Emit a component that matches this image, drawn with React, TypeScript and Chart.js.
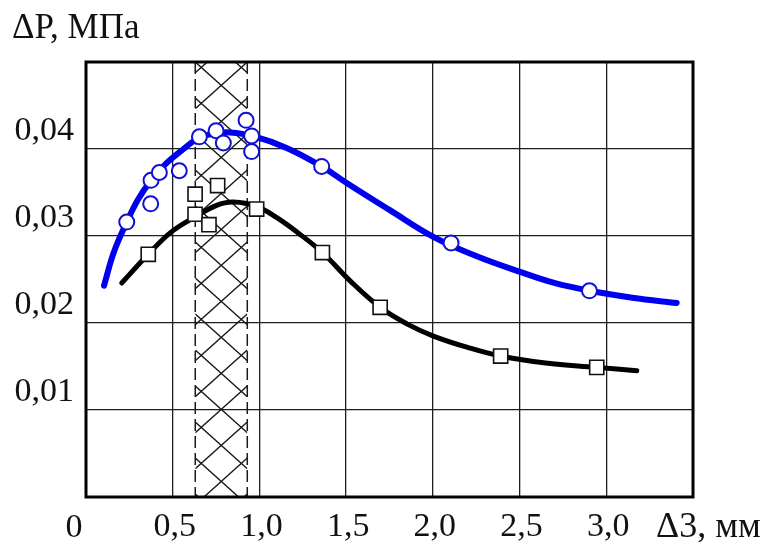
import React, { useEffect, useRef } from 'react';
import { Chart, registerables } from 'chart.js';

Chart.register(...registerables);

// ---- data ----
const blueCurveX = [0.104, 0.16, 0.235, 0.30, 0.375, 0.45, 0.55, 0.654, 0.75, 0.83, 0.96, 1.16, 1.359, 1.503, 1.75, 2.003, 2.25, 2.499, 2.7, 2.903, 3.15, 3.406];
const blueCurveY = [0.0243, 0.0281, 0.0316, 0.0342, 0.0364, 0.0381, 0.0398, 0.0413, 0.0418, 0.0419, 0.0415, 0.0401, 0.0380, 0.0361, 0.0330, 0.0299, 0.0277, 0.0259, 0.0246, 0.0237, 0.0229, 0.0223];

const blackCurveX = [0.206, 0.359, 0.494, 0.629, 0.75, 0.85, 0.984, 1.10, 1.22, 1.363, 1.52, 1.696, 1.85, 2.003, 2.2, 2.391, 2.65, 2.945, 3.176];
const blackCurveY = [0.0246, 0.0279, 0.0305, 0.0322, 0.0335, 0.0339, 0.0334, 0.0321, 0.0304, 0.0281, 0.0249, 0.0218, 0.0199, 0.0185, 0.0172, 0.0162, 0.0154, 0.0149, 0.0145];

const circleX = [0.235, 0.375, 0.423, 0.373, 0.538, 0.654, 0.750, 0.792, 0.923, 0.955, 0.955, 1.359, 2.105, 2.903];
const circleY = [0.0316, 0.0364, 0.0373, 0.0337, 0.0375, 0.0414, 0.0421, 0.0407, 0.0433, 0.0415, 0.0397, 0.0380, 0.0292, 0.0237];

const squareX = [0.359, 0.629, 0.629, 0.759, 0.709, 0.984, 1.363, 1.696, 2.391, 2.945];
const squareY = [0.0279, 0.0348, 0.0325, 0.0358, 0.0313, 0.0331, 0.0281, 0.0218, 0.0162, 0.0149];

const xTickValues = [0.5, 1.0, 1.5, 2.0, 2.5, 3.0];
const xTickLabels = ['0,5', '1,0', '1,5', '2,0', '2,5', '3,0'];
const yTickValues = [0.01, 0.02, 0.03, 0.04];
const yTickLabels = ['0,01', '0,02', '0,03', '0,04'];

const hatchFrom = 0.63;
const hatchTo = 0.93;

const yTitle = 'ΔP, МПа';
const xTitle = 'Δ3, мм';
const originLabel = '0';

const FONT = "'Liberation Serif', 'DejaVu Serif', serif";

const zip = (xs: number[], ys: number[]) => xs.map((x, i) => ({ x, y: ys[i] }));

const findLabel = (vals: number[], labels: string[], v: number) => {
  const i = vals.findIndex((t) => Math.abs(t - v) < 1e-6);
  return i >= 0 ? labels[i] : '';
};

const overlayPlugin = {
  id: 'overlay',
  beforeDatasetsDraw(chart: any) {
    const { ctx, chartArea: a, scales } = chart;
    const xs = scales.x;
    const x1 = xs.getPixelForValue(hatchFrom);
    const x2 = xs.getPixelForValue(hatchTo);
    const w = x2 - x1;
    const h = a.bottom - a.top;
    // cross hatching
    ctx.save();
    ctx.beginPath();
    ctx.rect(x1, a.top, w, h);
    ctx.clip();
    ctx.strokeStyle = '#1a1a1a';
    ctx.lineWidth = 1.4;
    const s = 36;
    const rise = w * 0.9;
    ctx.beginPath();
    for (let k = -Math.ceil(rise / s) - 2; k * s < h + rise + s; k++) {
      const y0 = a.top + k * s;
      ctx.moveTo(x1, y0);
      ctx.lineTo(x2, y0 + rise);
      ctx.moveTo(x1, y0 + rise);
      ctx.lineTo(x2, y0);
    }
    ctx.stroke();
    ctx.restore();
    // dashed borders
    ctx.save();
    ctx.setLineDash([12, 5]);
    ctx.strokeStyle = '#1a1a1a';
    ctx.lineWidth = 1.5;
    [x1, x2].forEach((px) => {
      ctx.beginPath();
      ctx.moveTo(px, a.top);
      ctx.lineTo(px, a.bottom);
      ctx.stroke();
    });
    ctx.restore();
    // frame
    ctx.save();
    ctx.strokeStyle = '#000';
    ctx.lineWidth = 3;
    ctx.strokeRect(a.left, a.top, a.right - a.left, a.bottom - a.top);
    ctx.restore();
  },
  afterDraw(chart: any) {
    const { ctx } = chart;
    ctx.save();
    ctx.fillStyle = '#111';
    ctx.textBaseline = 'alphabetic';
    ctx.font = `35px ${FONT}`;
    ctx.textAlign = 'left';
    ctx.fillText(yTitle, 12, 38);
    ctx.font = `36px ${FONT}`;
    ctx.fillText(xTitle, 656, 537);
    ctx.font = `34px ${FONT}`;
    ctx.textAlign = 'center';
    ctx.fillText(originLabel, 74, 537);
    ctx.restore();
  },
};

export default function App() {
  const ref = useRef<HTMLCanvasElement | null>(null);

  useEffect(() => {
    document.body.style.margin = '0';
    if (!ref.current) return;
    const chart = new Chart(ref.current, {
      type: 'scatter',
      data: {
        datasets: [
          {
            label: 'circles',
            data: zip(circleX, circleY),
            showLine: false,
            pointStyle: 'circle',
            pointRadius: 7.5,
            pointBackgroundColor: '#fff',
            pointBorderColor: '#1010d0',
            pointBorderWidth: 2,
          },
          {
            label: 'squares',
            data: zip(squareX, squareY),
            showLine: false,
            pointStyle: 'rect',
            pointRadius: 10,
            pointBackgroundColor: '#fff',
            pointBorderColor: '#111',
            pointBorderWidth: 1.6,
          },
          {
            label: 'blue curve',
            data: zip(blueCurveX, blueCurveY),
            showLine: true,
            borderColor: '#0000f0',
            borderWidth: 6,
            pointRadius: 0,
            tension: 0.4,
            borderCapStyle: 'round',
          },
          {
            label: 'black curve',
            data: zip(blackCurveX, blackCurveY),
            showLine: true,
            borderColor: '#000',
            borderWidth: 5,
            pointRadius: 0,
            tension: 0.4,
            borderCapStyle: 'round',
          },
        ],
      },
      options: {
        animation: false,
        responsive: true,
        maintainAspectRatio: false,
        layout: { padding: { top: 62, right: 77, left: 0, bottom: 0 } },
        plugins: {
          legend: { display: false },
          tooltip: { enabled: false },
        },
        scales: {
          x: {
            type: 'linear',
            min: 0,
            max: 3.5,
            afterFit: (s: any) => {
              s.height = 49;
            },
            afterBuildTicks: (s: any) => {
              s.ticks = [0, ...xTickValues, 3.5].map((v) => ({ value: v }));
            },
            ticks: {
              callback: (v: any) => findLabel(xTickValues, xTickLabels, Number(v)),
              font: { family: FONT, size: 34 },
              color: '#111',
              padding: 10,
              labelOffset: 2,
              maxRotation: 0,
              autoSkip: false,
            },
            grid: { color: '#1e1e1e', lineWidth: 1.3, drawTicks: false },
            border: { display: false },
          },
          y: {
            type: 'linear',
            min: 0,
            max: 0.05,
            afterFit: (s: any) => {
              s.width = 86;
            },
            afterBuildTicks: (s: any) => {
              s.ticks = [0, ...yTickValues, 0.05].map((v) => ({ value: v }));
            },
            ticks: {
              callback: (v: any) => findLabel(yTickValues, yTickLabels, Number(v)),
              font: { family: FONT, size: 34 },
              color: '#111',
              padding: 12,
              labelOffset: -18,
              autoSkip: false,
            },
            grid: { color: '#1e1e1e', lineWidth: 1.3, drawTicks: false },
            border: { display: false },
          },
        },
      },
      plugins: [overlayPlugin],
    });
    return () => chart.destroy();
  }, []);

  return (
    <div style={{ width: 770, height: 546, position: 'relative' }}>
      <canvas ref={ref} />
    </div>
  );
}
